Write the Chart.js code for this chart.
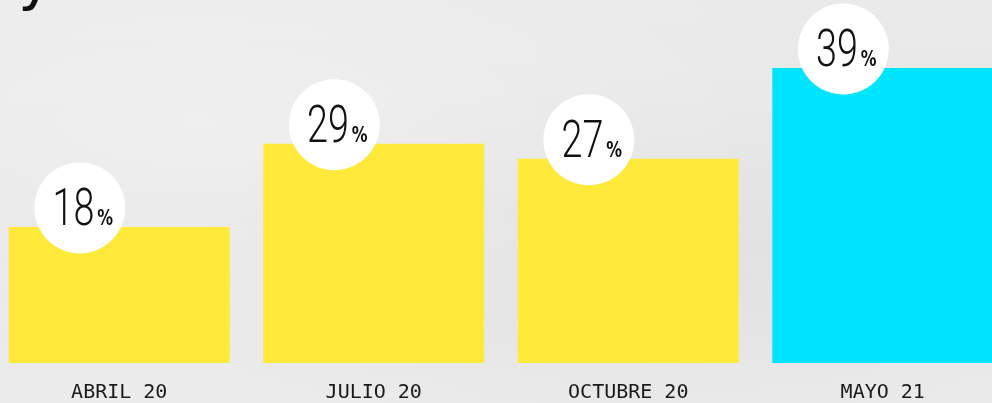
<!DOCTYPE html>
<html>
<head>
<meta charset="utf-8">
<script src="https://cdn.jsdelivr.net/npm/chart.js@4/dist/chart.umd.min.js"></script>
<style>
  html, body { margin: 0; padding: 0; overflow: hidden; }
  body {
    width: 992px; height: 403px;
    background-color: #e9e9e9;
    background-image:
      radial-gradient(ellipse at 20% 30%, rgba(255,255,255,0.3), transparent 60%),
      radial-gradient(ellipse at 70% 70%, rgba(0,0,0,0.03), transparent 55%),
      linear-gradient(180deg, #eaeaea 0%, #e7e7e7 50%, #ececec 100%);
    position: relative;
  }
  #wrap { position: absolute; left: -8px; top: 0; width: 1018px; height: 423px; }
</style>
</head>
<body>
<div id="wrap"><canvas id="shareChart"></canvas></div>
<script>
// Data
const periods = ['ABRIL 20', 'JULIO 20', 'OCTUBRE 20', 'MAYO 21'];
const shares = [18, 29, 27, 39];
const barColors = ['#ffe93b', '#ffe93b', '#ffe93b', '#00e5ff'];

// white circle badges with the value
const badgePlugin = {
  id: 'badges',
  afterDatasetsDraw(chart) {
    const ctx = chart.ctx;
    const meta = chart.getDatasetMeta(0);
    ctx.save();
    // tail of the cut-off heading
    ctx.fillStyle = '#111';
    ctx.font = '60px "DejaVu Sans"';
    ctx.textBaseline = 'alphabetic';
    ctx.fillText('y', 26, -2);

    meta.data.forEach((bar, i) => {
      const cx = bar.x - bar.width / 2 + 71;
      const cy = bar.y - 19;
      ctx.beginPath();
      ctx.arc(cx, cy, 45.5, 0, Math.PI * 2);
      ctx.fillStyle = '#ffffff';
      ctx.fill();

      const num = String(shares[i]);
      const numFont = '300 51px Roboto';
      const pctFont = 'bold 21px "DejaVu Sans"';
      const sx = 0.74;
      ctx.fillStyle = '#111';
      ctx.textBaseline = 'alphabetic';
      ctx.font = numFont;
      const numW = ctx.measureText(num).width * sx;
      ctx.font = pctFont;
      const pctW = ctx.measureText('%').width * 0.75;
      const total = numW + 3 + pctW;
      const left = cx - total / 2 + 3;
      const base = cy + 17;

      ctx.save();
      ctx.translate(left, base);
      ctx.scale(sx, 1);
      ctx.font = numFont;
      ctx.fillText(num, 0, 0);
      ctx.restore();

      ctx.save();
      ctx.translate(left + numW + 3, base);
      ctx.scale(0.75, 1);
      ctx.font = pctFont;
      ctx.fillText('%', 0, 0);
      ctx.restore();
    });
    ctx.restore();
  }
};

const ctx = document.getElementById('shareChart').getContext('2d');
const shareChart = new Chart(ctx, {
  type: 'bar',
  data: {
    labels: periods,
    datasets: [{
      data: shares,
      backgroundColor: barColors,
      borderWidth: 0,
      categoryPercentage: 1,
      barPercentage: 0.868
    }]
  },
  options: {
    responsive: true,
    maintainAspectRatio: false,
    animation: false,
    layout: { padding: 0 },
    plugins: {
      legend: { display: false },
      tooltip: { enabled: false }
    },
    scales: {
      x: {
        grid: { display: false, drawTicks: false },
        border: { display: false },
        ticks: {
          color: '#1a1a1a',
          padding: 18,
          font: { family: '"DejaVu Sans Mono"', size: 20 }
        }
      },
      y: {
        display: false,
        min: 0,
        max: 48
      }
    }
  },
  plugins: [badgePlugin]
});
</script>
</body>
</html>
